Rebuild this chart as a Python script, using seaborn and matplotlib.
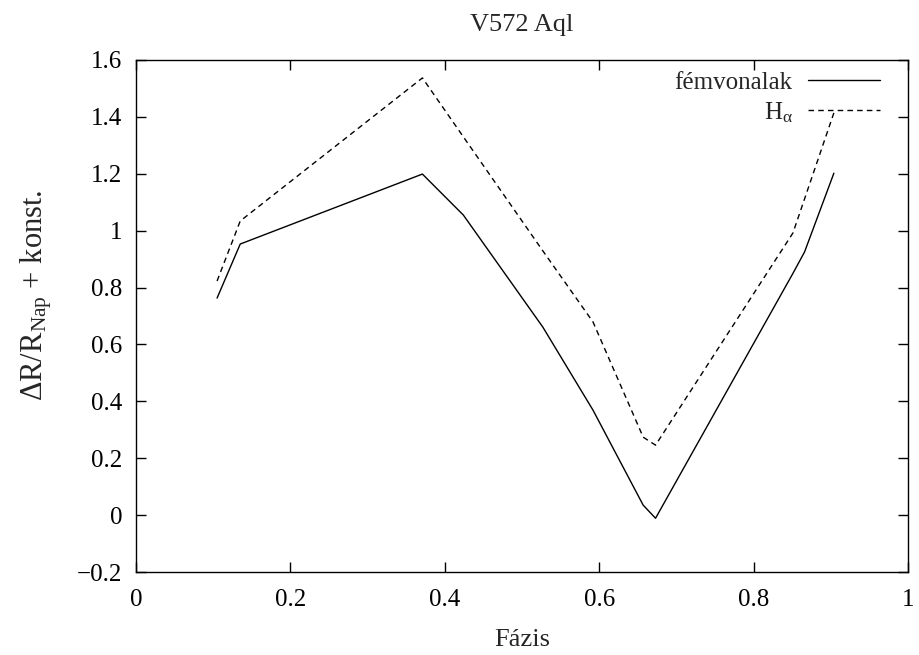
import matplotlib
matplotlib.use("Agg")
import matplotlib.pyplot as plt
import seaborn as sns
import pandas as pd

phase_metal = [0.105, 0.135, 0.371, 0.424, 0.527, 0.592, 0.657, 0.673, 0.851, 0.866, 0.904]
dr_metal = [0.763, 0.953, 1.199, 1.055, 0.661, 0.369, 0.035, -0.011, 0.850, 0.925, 1.202]

phase_halpha = [0.105, 0.135, 0.371, 0.424, 0.527, 0.592, 0.657, 0.673, 0.851, 0.904]
dr_halpha = [0.823, 1.034, 1.537, 1.330, 0.929, 0.679, 0.274, 0.246, 0.992, 1.414]

label_metal = "fémvonalak"
label_halpha = r"H$_\alpha$"

sns.set_style("ticks")
plt.rcParams["font.family"] = ["Liberation Serif", "DejaVu Serif"]
plt.rcParams["mathtext.fontset"] = "custom"
plt.rcParams["mathtext.rm"] = "Liberation Serif"
plt.rcParams["mathtext.it"] = "Liberation Serif:italic"
plt.rcParams["mathtext.default"] = "rm"

FS = 18

fig = plt.figure(figsize=(9.19, 6.55), dpi=100)
ax = fig.add_axes([0.148, 0.1267, 0.840, 0.7817])

df_m = pd.DataFrame({"x": phase_metal, "y": dr_metal})
df_h = pd.DataFrame({"x": phase_halpha, "y": dr_halpha})
sns.lineplot(data=df_m, x="x", y="y", ax=ax, color="black", lw=1.0, sort=False,
             label=label_metal, estimator=None)
sns.lineplot(data=df_h, x="x", y="y", ax=ax, color="black", lw=1.0, sort=False,
             label=label_halpha, estimator=None)
ax.lines[1].set_linestyle((0, (4, 3)))

ax.set_xlim(0, 1)
ax.set_ylim(-0.2, 1.6)
ax.set_xticks([0, 0.2, 0.4, 0.6, 0.8, 1])
ax.set_xticklabels(["0", "0.2", "0.4", "0.6", "0.8", "1"])
ax.set_yticks([-0.2, 0, 0.2, 0.4, 0.6, 0.8, 1, 1.2, 1.4, 1.6])
ax.set_yticklabels(["\u22120.2", "0", "0.2", "0.4", "0.6", "0.8", "1", "1.2", "1.4", "1.6"])
ax.tick_params(direction="in", top=True, right=True, length=7, width=1,
               labelsize=FS, colors="black")
ax.tick_params(axis="x", pad=12)
ax.tick_params(axis="y", pad=10)
for s in ax.spines.values():
    s.set_linewidth(1.0)
    s.set_color("black")

ax.set_xlabel("Fázis", fontsize=19, labelpad=13)
ax.set_ylabel(r"$\Delta$R/R$_{\rm Nap}$ + konst.", fontsize=22)
ax.yaxis.set_label_coords(-0.106, 0.54)
ax.set_title("V572 Aql", fontsize=19, pad=21)

leg = ax.legend(loc="upper right", bbox_to_anchor=(0.964, 0.978), frameon=False,
                markerfirst=False, fontsize=FS, handlelength=2.9, borderaxespad=0,
                labelspacing=0.25, handletextpad=0.6, borderpad=0)
for t in leg.get_texts():
    t.set_ha("right")
leg.get_lines()[1].set_linestyle((0, (4, 3)))

fig.savefig("out.png", dpi=100)
